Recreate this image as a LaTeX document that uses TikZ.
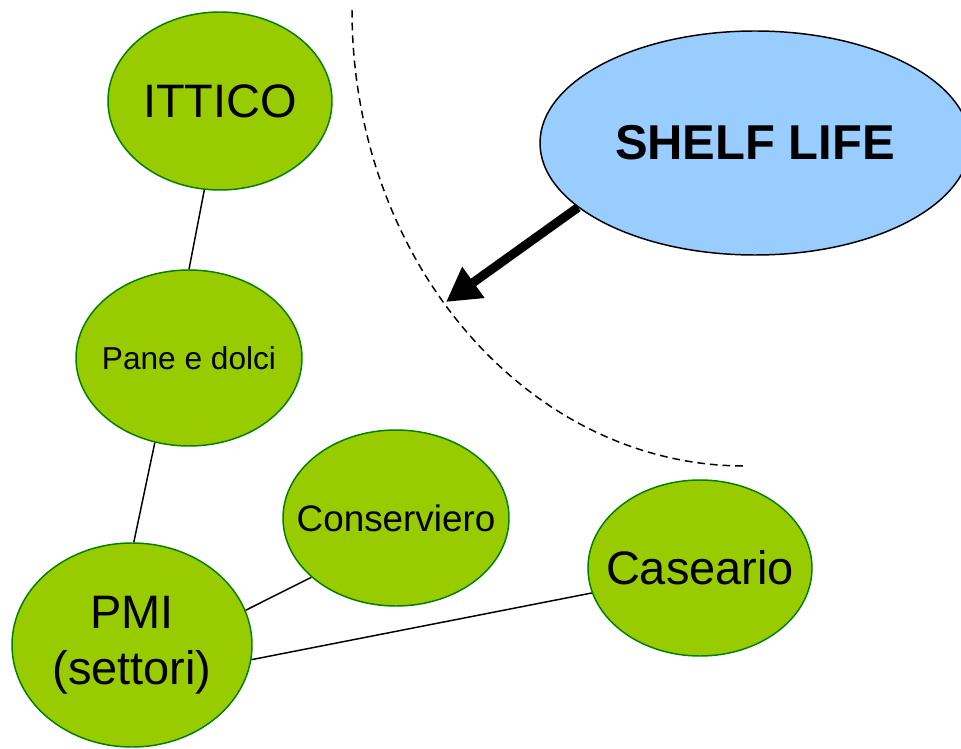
\documentclass[tikz,border=0pt]{standalone}
\usepackage{fontspec}
\setmainfont{Liberation Sans}
\usetikzlibrary{shapes.geometric,arrows.meta}

\definecolor{settore}{RGB}{153,204,0}
\definecolor{bordo}{RGB}{0,128,0}
\definecolor{cielo}{RGB}{153,204,255}

% text that does not widen the ellipse
\newcommand{\piatto}[1]{\makebox[0pt][c]{#1}}

\tikzset{
	settorenode/.style={ellipse, draw=bordo, fill=settore, line width=1.05pt, inner sep=0pt, align=center},
	shelfnode/.style={ellipse, draw=black, fill=cielo, line width=1.05pt, inner sep=0pt},
	legame/.style={line width=1.05pt},
}

\begin{document}
\begin{tikzpicture}
			%%%%% START %%%%%
			
			\useasboundingbox (0, 0) rectangle (24.025, 18.7);
			
			\draw[line width=1.05pt, dash pattern=on 5.5pt off 3.5pt] (8.8, 18.45) arc[start angle=180, end angle=270, x radius=9.825, y radius=11.4];
			
			\node[settorenode, minimum width=5.6cm, minimum height=4.45cm, font=\fontsize{33.4}{40}\selectfont] (ittico) at (5.5, 16.175) {\piatto{ITTICO}};
			\node[settorenode, minimum width=5.65cm, minimum height=4.4cm, font=\fontsize{22.5}{27}\selectfont] (pane) at (4.725, 9.75) {\piatto{Pane e dolci}};
			\node[settorenode, minimum width=5.65cm, minimum height=4.4cm, font=\fontsize{26.2}{31}\selectfont] (conserviero) at (9.9, 5.75) {\piatto{Conserviero}};
			\node[settorenode, minimum width=5.6cm, minimum height=4.4cm, font=\fontsize{33.4}{40}\selectfont] (caseario) at (17.5, 4.5) {\piatto{Caseario}};
			\node[settorenode, minimum width=6cm, minimum height=5.1cm, font=\fontsize{33.4}{39.8}\selectfont] (pmi) at (3.3, 2.575) {PMI\\(settori)};
			
			\node[shelfnode, minimum width=10.75cm, minimum height=5.6cm, font=\fontsize{34.8}{41}\selectfont\bfseries] (shelf) at (18.875, 15.125) {\piatto{SHELF LIFE}};
			
			\draw[legame] (ittico.260) -- (pane.90);
			\draw[legame] (pane.248) -- (pmi.89);
			\draw[legame] (pmi.17) -- (conserviero.215);
			\draw[legame] (pmi.-7) -- (caseario.193);
			
			\coordinate (bersaglio) at (11.15, 11.15);
			\draw[line width=6.4pt, -{Triangle[length=24pt, width=25.6pt]}] (shelf.200) -- (bersaglio);
			
			%%%%% END %%%%%
		\end{tikzpicture}
\end{document}
